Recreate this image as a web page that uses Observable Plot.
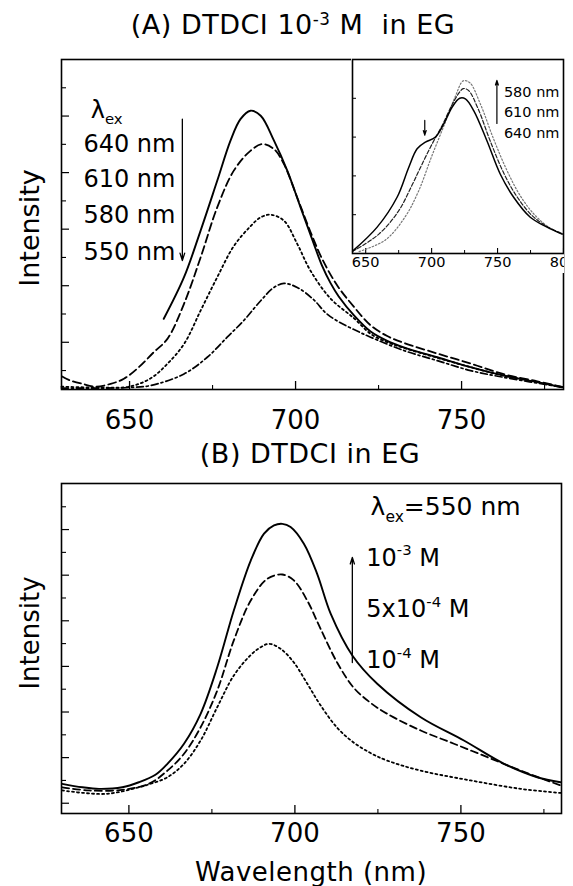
<!DOCTYPE html>
<html><head><meta charset="utf-8">
<script src="https://cdn.jsdelivr.net/npm/d3@7"></script>
<script src="https://cdn.jsdelivr.net/npm/@observablehq/plot@0.6"></script>
<style>
body{margin:0;background:#fff;}
#wrap{position:relative;width:573px;height:886px;overflow:hidden;font-family:"DejaVu Sans",sans-serif;color:#000;background:#fff;}
.abs{position:absolute;white-space:nowrap;line-height:1;}
.title{transform:translate(-50%,-50%);font-size:27px;letter-spacing:0.5px;}
.ylab{transform:translate(-50%,-50%) rotate(-90deg);}
.title sup{font-size:62%;vertical-align:0;position:relative;top:-0.55em;}
</style></head><body><div id="wrap"></div>
<script>
// ---------- Panel A: DTDCI 1e-3 M in EG, various excitation wavelengths ----------
const A_ex640 = [[660.3,1.83],[666.4,3.30],[671.4,4.95],[676.4,6.71],[680.4,8.13],[683.4,8.89],[686.4,9.19],[689.5,9.01],[693.5,8.13],[697.5,7.07],[701.5,5.77],[705.5,4.48],[708.0,3.7],[710.5,3.1],[713.0,2.62],[717.6,1.95],[722.6,1.38],[727.6,1.05],[732.6,0.82],[742.7,0.47],[752.7,0.12],[762.7,-0.18],[772.8,-0.41],[780.3,-0.59]];
const A_ex610 = [[629.7,-0.21],[631.7,-0.33],[635.8,-0.47],[639.8,-0.57],[644.3,-0.47],[648.3,-0.29],[652.8,0.12],[657.3,0.65],[661.4,1.12],[666.4,2.36],[671.4,4.00],[676.4,5.77],[681.4,7.07],[686.4,7.77],[690.0,8.01],[693.5,7.83],[696.5,7.30],[700.5,6.12],[704.5,4.9],[708.0,3.95],[712.6,3.0],[717.6,2.25],[722.6,1.6],[727.6,1.22],[732.6,0.98],[742.7,0.6],[752.7,0.25],[762.7,-0.13],[772.8,-0.38],[780.3,-0.58]];
const A_ex580 = [[629.5,-0.57],[641.3,-0.60],[649.8,-0.57],[656.3,-0.28],[661.4,0.24],[666.4,0.94],[671.4,2.12],[676.4,3.3],[681.4,4.4],[686.4,5.1],[689.5,5.42],[692.5,5.51],[696.5,5.30],[700.5,4.48],[704.5,3.53],[710.5,2.55],[717.6,1.85],[722.6,1.3],[727.6,1.0],[732.6,0.8],[742.7,0.45],[752.7,0.12],[762.7,-0.18],[772.8,-0.41],[780.3,-0.59]];
const A_ex550 = [[629.5,-0.62],[641.3,-0.62],[649.7,-0.6],[656.3,-0.53],[666.4,-0.12],[673.4,0.47],[679.4,1.18],[684.4,1.77],[689.5,2.47],[693.5,2.94],[696.5,3.08],[700.5,2.94],[705.5,2.5],[709.0,2.05],[712.6,1.75],[717.6,1.45],[722.6,1.18],[732.6,0.71],[742.7,0.35],[752.7,0.0],[762.7,-0.24],[780.3,-0.59]];
const A_xMajor = [650, 700, 750];
const A_xMinor = [675, 725, 775];
const A_yMajor = [1, 3, 5, 7, 9];
const A_yMinor = [0, 2, 4, 6, 8, 10];
const A_legend = [
  {label: "λ_{ex}", x: 638.3, y: 9.2},
  {label: "640 nm", x: 636.1, y: 8.01},
  {label: "610 nm", x: 636.1, y: 6.77},
  {label: "580 nm", x: 636.1, y: 5.48},
  {label: "550 nm", x: 636.1, y: 4.18}
];
const A_arrow = [{x: 665.9, from: 8.89, to: 3.89}];

// ---------- Inset of panel A ----------
const I_ex640 = [[640.5,0.015],[658.7,0.136],[673.8,0.29],[682.7,0.445],[689,0.54],[695.3,0.574],[702.9,0.60],[709.2,0.668],[715.5,0.754],[721.3,0.80],[725.6,0.797],[731.9,0.737],[742,0.58],[752,0.41],[762.2,0.29],[774.8,0.187],[787.5,0.136],[798.9,0.10]];
const I_ex610 = [[640,0.01],[660,0.1],[675,0.22],[685,0.35],[692,0.45],[700,0.56],[708,0.66],[715,0.76],[720,0.82],[724,0.85],[728,0.84],[735,0.75],[745,0.57],[755,0.41],[765,0.29],[777,0.19],[790,0.13],[800,0.1]];
const I_ex580 = [[645,0.01],[665,0.07],[680,0.19],[690,0.32],[700,0.5],[710,0.67],[718,0.81],[724,0.89],[729,0.88],[737,0.77],[747,0.59],[757,0.43],[767,0.3],[778,0.2],[790,0.13],[800,0.1]];
const I_xMajor = [650, 700, 750, 800];
const I_xMinor = [675, 725, 775];
const I_yTicks = [0.2, 0.4, 0.6, 0.8];
const I_legend = [
  {label: "580 nm", x: 754.8, y: 0.831},
  {label: "610 nm", x: 754.8, y: 0.728},
  {label: "640 nm", x: 754.8, y: 0.617}
];
const I_arrows = [{x: 749.5, from: 0.67, to: 0.892}, {x: 694.8, from: 0.686, to: 0.61}];

// ---------- Panel B: DTDCI in EG, lambda_ex = 550 nm, concentrations ----------
const B_1e3 = [[629.9,0.85],[636.0,0.70],[641.0,0.63],[648.0,0.70],[653.0,0.92],[658.0,1.25],[661.6,1.73],[666.6,2.61],[671.6,3.92],[676.6,5.96],[681.6,8.45],[686.7,10.64],[690.7,11.82],[693.7,12.18],[696.2,12.25],[698.7,12.11],[702.7,11.38],[706.7,10.06],[710.8,8.3],[717.3,6.48],[724.8,5.24],[737.9,3.77],[750.9,2.75],[763.0,1.73],[773.0,1.14],[780.0,0.92]];
const B_5e4 = [[629.9,0.70],[638.0,0.56],[648.0,0.59],[656.0,0.85],[661.6,1.43],[666.6,2.17],[671.6,3.33],[676.6,4.94],[681.6,7.14],[686.7,8.89],[691.7,9.84],[696.2,10.03],[699.7,9.77],[703.7,8.89],[707.7,7.66],[712.8,6.15],[717.8,5.05],[722.8,4.4],[727.8,3.92],[737.9,3.19],[747.9,2.61],[758.0,2.02],[768.0,1.43],[780.0,0.78]];
const B_1e4 = [[629.9,0.56],[643.0,0.41],[653.0,0.70],[656.5,0.85],[661.6,1.14],[666.6,1.73],[671.6,2.75],[676.6,4.21],[681.6,5.6],[686.7,6.5],[689.7,6.84],[692.2,6.99],[695.7,6.77],[699.7,6.17],[703.7,5.25],[707.7,4.3],[712.8,3.3],[717.8,2.65],[722.8,2.2],[727.8,1.87],[737.9,1.43],[752.9,1.00],[768.0,0.63],[780.0,0.45]];
const B_xMajor = [650, 700, 750];
const B_xMinor = [675, 725, 775];
const B_yMajor = [0, 2, 4, 6, 8, 10, 12];
const B_yMinor = [1, 3, 5, 7, 9, 11, 13];
const B_legend = [
  {label: "λ_{ex}=550 nm", x: 722.8, y: 12.97, size: 25},
  {label: "10^{-3} M", x: 721.5, y: 10.76, size: 24},
  {label: "5x10^{-4} M", x: 721.5, y: 8.5, size: 24},
  {label: "10^{-4} M", x: 721.5, y: 6.26, size: 24}
];
const B_arrow = [{x: 717.3, from: 6.17, to: 10.78}];

// ---------- helpers ----------
const FONT = "DejaVu Sans";
function curve(data, dash, width, color = "black") {
  return Plot.line(data, {x: d => d[0], y: d => d[1], stroke: color, strokeWidth: width,
    strokeDasharray: dash, curve: "catmull-rom", strokeLinejoin: "round"});
}
function richify(root) {
  root.querySelectorAll("text").forEach(t => {
    const s = t.textContent;
    if (!/[\^_]\{/.test(s)) return;
    const F = parseFloat(getComputedStyle(t).fontSize);
    while (t.firstChild) t.removeChild(t.firstChild);
    const re = /([\^_])\{([^}]*)\}/g;
    const segs = []; let last = 0, m;
    while ((m = re.exec(s))) {
      if (m.index > last) segs.push(["n", s.slice(last, m.index)]);
      segs.push([m[1], m[2]]); last = re.lastIndex;
    }
    if (last < s.length) segs.push(["n", s.slice(last)]);
    let cur = 0;
    for (const [k, str] of segs) {
      const target = k === "^" ? -0.42 * F : k === "_" ? 0.25 * F : 0;
      const ts = document.createElementNS("http://www.w3.org/2000/svg", "tspan");
      if (target !== cur) ts.setAttribute("dy", target - cur);
      if (k !== "n") ts.setAttribute("font-size", 0.62 * F);
      ts.textContent = str;
      t.appendChild(ts);
      cur = target;
    }
  });
}
const wrap = document.getElementById("wrap");
function place(el, left, top) {
  el.style.position = "absolute"; el.style.left = left + "px"; el.style.top = top + "px";
  wrap.appendChild(el); richify(el);
}
function html(cls, inner, left, top, size) {
  const d = document.createElement("div");
  d.className = "abs " + cls; d.innerHTML = inner;
  d.style.left = left + "px"; d.style.top = top + "px";
  if (size) d.style.fontSize = size + "px";
  wrap.appendChild(d);
}

// ---------- Panel A ----------
const plotA = Plot.plot({
  width: 573, height: 440,
  marginLeft: 61, marginRight: 10, marginTop: 59, marginBottom: 51,
  style: {fontFamily: FONT, background: "transparent", color: "black", overflow: "visible"},
  x: {domain: [629.5, 780.7]},
  y: {domain: [-0.67, 11.0]},
  marks: [
    Plot.axisX({ticks: A_xMajor, anchor: "bottom", tickSize: -8, fill: "none", strokeWidth: 1.3}),
    Plot.axisX({ticks: A_xMinor, anchor: "bottom", tickSize: -4, fill: "none", strokeWidth: 1.1}),
    Plot.axisX({ticks: A_xMajor, anchor: "bottom", tickSize: 0, tickPadding: 21, fontSize: 26, label: null}),
    Plot.axisY({ticks: A_yMajor, anchor: "left", tickSize: -8, fill: "none", strokeWidth: 1.2}),
    Plot.axisY({ticks: A_yMinor, anchor: "left", tickSize: -5, fill: "none", strokeWidth: 1.1}),
    curve(A_ex550, "7,3,2,3", 1.7),
    curve(A_ex580, "2,3", 1.8),
    curve(A_ex610, "8,4", 1.8),
    curve(A_ex640, null, 1.9),
    Plot.arrow(A_arrow, {x1: "x", x2: "x", y1: "from", y2: "to", stroke: "black", strokeWidth: 1.3, headLength: 9, headAngle: 35}),
    Plot.text(A_legend, {x: "x", y: "y", text: "label", textAnchor: "start", fontSize: 24, fill: "black"}),
    Plot.frame({stroke: "black", strokeWidth: 1.6})
  ]
});
place(plotA, 0, 0);

// ---------- Inset ----------
const plotI = Plot.plot({
  width: 213, height: 215,
  marginLeft: 1, marginRight: 1, marginTop: 1, marginBottom: 20,
  style: {fontFamily: FONT, background: "white", color: "black", overflow: "hidden"},
  x: {domain: [640, 800]},
  y: {domain: [0, 1]},
  marks: [
    Plot.axisX({ticks: I_xMajor, anchor: "bottom", tickSize: -5, fill: "none", strokeWidth: 1.1}),
    Plot.axisX({ticks: I_xMinor, anchor: "bottom", tickSize: -3, fill: "none", strokeWidth: 1}),
    Plot.axisX({ticks: I_xMajor, anchor: "bottom", tickSize: 0, tickPadding: 3, fontSize: 14.5, label: null}),
    Plot.axisY({ticks: I_yTicks, anchor: "left", tickSize: -4, fill: "none", strokeWidth: 1}),
    curve(I_ex580, "1.5,2", 1.2, "#777"),
    curve(I_ex610, "4,2", 1.2, "#222"),
    curve(I_ex640, null, 1.5),
    Plot.arrow(I_arrows, {x1: "x", x2: "x", y1: "from", y2: "to", stroke: "black", strokeWidth: 1.2, headLength: 6, headAngle: 35}),
    Plot.text(I_legend, {x: "x", y: "y", text: "label", textAnchor: "start", fontSize: 14.5, fill: "black"}),
    Plot.frame({stroke: "black", strokeWidth: 1.6})
  ]
});
place(plotI, 351, 58);

// ---------- Panel B ----------
const plotB = Plot.plot({
  width: 573, height: 446,
  marginLeft: 61, marginRight: 12, marginTop: 43, marginBottom: 73,
  style: {fontFamily: FONT, background: "transparent", color: "black", overflow: "visible"},
  x: {domain: [629.7, 780.3]},
  y: {domain: [-0.45, 14.02]},
  marks: [
    Plot.axisX({ticks: B_xMajor, anchor: "bottom", tickSize: -8, fill: "none", strokeWidth: 1.3}),
    Plot.axisX({ticks: B_xMinor, anchor: "bottom", tickSize: -4, fill: "none", strokeWidth: 1.1}),
    Plot.axisX({ticks: B_xMajor, anchor: "bottom", tickSize: 0, tickPadding: 10, fontSize: 26, label: null}),
    Plot.axisY({ticks: B_yMajor, anchor: "left", tickSize: -8, fill: "none", strokeWidth: 1.2}),
    Plot.axisY({ticks: B_yMinor, anchor: "left", tickSize: -5, fill: "none", strokeWidth: 1.1}),
    curve(B_1e4, "2,3", 1.8),
    curve(B_5e4, "7,4", 1.8),
    curve(B_1e3, null, 1.9),
    Plot.arrow(B_arrow, {x1: "x", x2: "x", y1: "from", y2: "to", stroke: "black", strokeWidth: 1.3, headLength: 8, headAngle: 35}),
    Plot.text(B_legend, {x: "x", y: "y", text: "label", textAnchor: "start", fontSize: d => d.size, fill: "black"}),
    Plot.frame({stroke: "black", strokeWidth: 1.6})
  ]
});
place(plotB, 0, 440);

// ---------- Titles and axis labels ----------
html("title", "(A) DTDCI 10<sup>-3</sup> M&nbsp; in EG", 293, 24);
html("title", "(B) DTDCI in EG", 310, 453);
html("title", "Wavelength (nm)", 311, 872, 26);
html("ylab", "Intensity", 28.5, 228, 27);
html("ylab", "Intensity", 30, 633, 26);
</script></body></html>
